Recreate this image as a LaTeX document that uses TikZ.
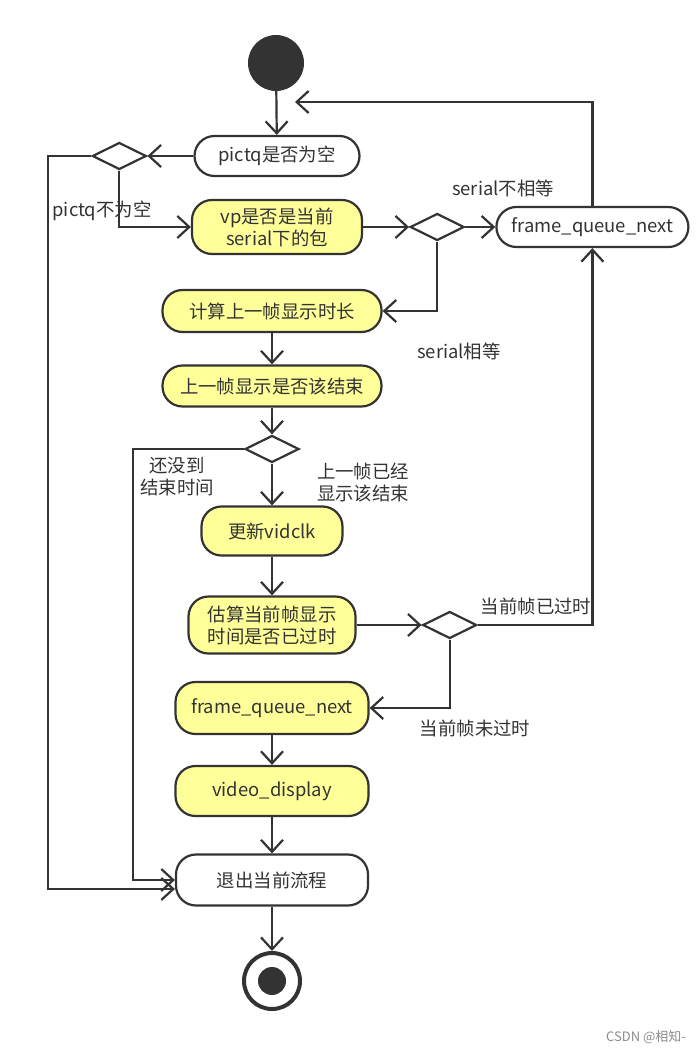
\documentclass[tikz,border=0pt]{standalone}
\usepackage{fontspec}
\setmainfont{Noto Sans CJK SC}
\usetikzlibrary{arrows.meta, shapes.geometric, positioning}
\definecolor{ink}{HTML}{333333}
\definecolor{actfill}{HTML}{FFFF99}

\begin{document}
\begin{tikzpicture}[
  x=1pt, y=-1pt,
  node distance=30pt and 46pt,
  every node/.style={text=ink, font=\fontsize{18.4}{22}\selectfont},
  act/.style={rectangle, rounded corners=20pt, draw=ink, line width=2.2pt,
              fill=actfill, align=center, inner sep=0pt},
  plainact/.style={act, fill=white},
  decide/.style={diamond, draw=ink, line width=2.2pt, fill=white, aspect=2,
                 minimum width=54pt, minimum height=27pt, inner sep=0pt},
  startdot/.style={circle, fill=ink, minimum size=56pt, inner sep=0pt},
  enddot/.style={circle, draw=ink, line width=4pt, fill=white, minimum size=56pt, inner sep=0pt},
  lbl/.style={align=center, inner sep=0pt},
  arr/.style={-{Straight Barb[length=12pt, width=22pt]}, line width=2.2pt, draw=ink}
]
\useasboundingbox (0,0) rectangle (700,1051);

\node[startdot] (start) at (276,63) {};

\node[plainact, minimum width=165pt, minimum height=40pt] (pictq) at (277,156) {pictq是否为空};
\node[decide, left=46pt of pictq] (d1) {};

\node[act, minimum width=170pt, minimum height=54pt] (vp) at (277,227) {vp是否是当前\\serial下的包};
\node[decide, right=46pt of vp] (d2) {};
\node[plainact, minimum width=192pt, minimum height=40pt, right=30pt of d2] (nextA) {frame\_queue\_next};

\node[act, minimum width=219pt, minimum height=42pt] (calc) at (272,311) {计算上一帧显示时长};
\node[act, minimum width=219pt, minimum height=41pt] (ended) at (272,386) {上一帧显示是否该结束};
\node[decide] (d3) at (272,449) {};

\node[act, minimum width=141pt, minimum height=49pt] (clk) at (272,531) {更新vidclk};
\node[act, minimum width=167pt, minimum height=57pt] (late) at (272,625) {估算当前帧显示\\时间是否已过时};
\node[decide, right=65pt of late] (d4) {};

\node[act, minimum width=193pt, minimum height=52pt] (nextB) at (272,708) {frame\_queue\_next};
\node[act, minimum width=193pt, minimum height=50pt] (disp) at (272,791) {video\_display};
\node[plainact, minimum width=192pt, minimum height=51pt] (quit) at (272,880) {退出当前流程};
\node[enddot] (stop) at (272,981) {};
\fill[ink] (stop.center) circle (14pt);

% branch labels
\node[lbl] (l1) at (102,211) {pictq不为空};
\node[lbl] (l2) at (503,188) {serial不相等};
\node[lbl] (l3) at (459,351) {serial相等};
\node[lbl] (l4) at (177,477) {还没到\\结束时间};
\node[lbl] (l5) at (363,483) {上一帧已经\\显示该结束};
\node[lbl] (l6) at (536,606) {当前帧已过时};
\node[lbl] (l7) at (475,728) {当前帧未过时};
\node[lbl, font=\fontsize{13}{15}\selectfont, text=black!45] (mark) at (646,1037) {CSDN @相知-};

\coordinate (back) at (295,102);

\draw[arr] (start) -- (pictq);
\draw[arr] (pictq) -- (d1);
\draw[arr] (d1.west) -- ++(-43,0) |- ([yshift=-9pt]quit.west);
\draw[arr] (d1.south) |- (vp.west);
\draw[arr] (vp) -- (d2);
\draw[arr] (d2) -- (nextA);
\draw[arr] (nextA.north) |- (back);
\draw[arr] (d2.south) |- (calc.east);
\draw[arr] (calc) -- (ended);
\draw[arr] (ended) -- (d3);
\draw[arr] (d3.west) -- ++(-111,0) |- (quit.west);
\draw[arr] (d3) -- (clk);
\draw[arr] (clk) -- (late);
\draw[arr] (late) -- (d4);
\draw[arr] (d4.east) -| (nextA.south);
\draw[arr] (d4.south) |- (nextB.east);
\draw[arr] (nextB) -- (disp);
\draw[arr] (disp) -- (quit);
\draw[arr] (quit) -- (stop);

\end{tikzpicture}
\end{document}
